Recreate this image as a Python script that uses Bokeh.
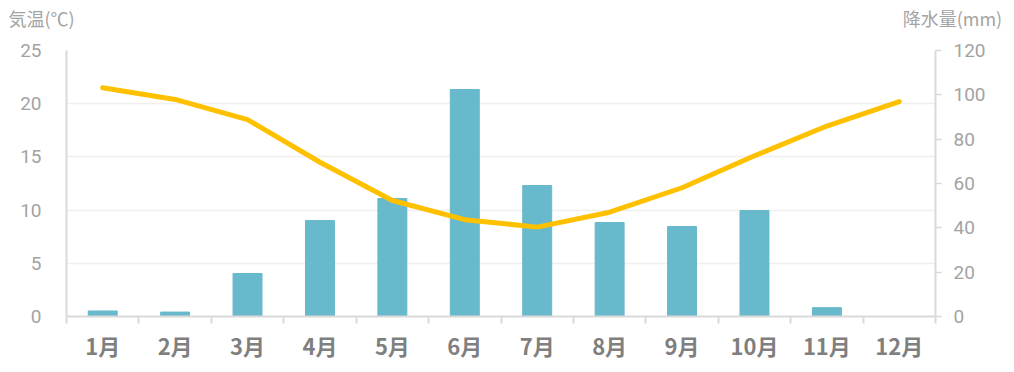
from bokeh.plotting import figure
from bokeh.models import Range1d, LinearAxis, FixedTicker, Title
from bokeh.embed import file_html
from bokeh.resources import INLINE

months = ["1月", "2月", "3月", "4月", "5月", "6月", "7月", "8月", "9月", "10月", "11月", "12月"]
temperature = [21.5, 20.4, 18.5, 14.5, 10.9, 9.1, 8.4, 9.8, 12.1, 15.1, 17.9, 20.2]
precipitation = [2.5, 2.0, 19.4, 43.3, 53.2, 102.4, 59.1, 42.4, 40.6, 47.8, 4.0, 0.0]
temp_ticks = [0, 5, 10, 15, 20, 25]
prec_ticks = [0, 20, 40, 60, 80, 100, 120]
temp_title = "気温(℃)"
prec_title = "降水量(mm)"

xs = list(range(1, len(months) + 1))

FL, FR, FT, FB = 66, 935, 50, 316  # frame edges in page pixels

p = figure(width=1014, height=372, output_backend="svg", toolbar_location=None,
           x_range=Range1d(0.5, 12.5), y_range=Range1d(0, 25),
           min_border_left=FL, min_border_right=1014 - FR, min_border_top=FT,
           min_border_bottom=372 - FB)
p.outline_line_color = None
p.extra_y_ranges = {"prec": Range1d(0, 120)}

# grid
p.xgrid.grid_line_color = None
p.ygrid.grid_line_color = "#EFEFEF"
p.ygrid.grid_line_width = 1.5
p.ygrid.ticker = FixedTicker(ticks=temp_ticks)

# bars
p.vbar(x=xs, top=precipitation, width=0.4, color="#67B9CB", y_range_name="prec")
# line
p.line(x=xs, y=temperature, line_color="#FFC000", line_width=5, line_join="round", line_cap="round")

# x axis
xa = p.xaxis[0]
xa.ticker = FixedTicker(ticks=xs, minor_ticks=[i + 0.5 for i in range(0, 13)])
xa.major_label_overrides = {i: m for i, m in zip(xs, months)}
xa.major_tick_line_color = None
xa.minor_tick_line_color = "#D9D9D9"
xa.minor_tick_line_width = 2
xa.minor_tick_out = 7
xa.minor_tick_in = 0
xa.axis_line_color = "#D9D9D9"
xa.axis_line_width = 2
xa.major_label_text_font = "Noto Sans CJK JP"
xa.major_label_text_font_style = "bold"
xa.major_label_text_font_size = "22px"
xa.major_label_text_color = "#7F7F7F"
xa.major_label_standoff = 5

# left axis
ya = p.yaxis[0]
ya.ticker = FixedTicker(ticks=temp_ticks)
ya.major_tick_line_color = None
ya.minor_tick_line_color = None
ya.axis_line_color = "#D9D9D9"
ya.axis_line_width = 2
ya.major_label_text_font = "Roboto"
ya.major_label_text_font_size = "19px"
ya.major_label_text_color = "#A3A3A3"
ya.major_label_standoff = 19

# right axis
ra = LinearAxis(y_range_name="prec", ticker=FixedTicker(ticks=prec_ticks))
ra.major_tick_line_color = "#D9D9D9"
ra.major_tick_line_width = 1.5
ra.major_tick_out = 6
ra.major_tick_in = 0
ra.minor_tick_line_color = None
ra.axis_line_color = "#D9D9D9"
ra.axis_line_width = 2
ra.major_label_text_font = "Roboto"
ra.major_label_text_font_size = "19px"
ra.major_label_text_color = "#A3A3A3"
ra.major_label_standoff = 12
p.add_layout(ra, "right")

# axis titles: one title line above the frame (left title, gap, right title)
spacer = Title(text="\u3000", text_font_size="2px", standoff=16, text_color="#FFFFFF")
p.add_layout(spacer, "above")
gap = "\u3000" * 46
titles = Title(text=temp_title + gap + prec_title, align="left", offset=-58, standoff=0,
               text_font="Noto Sans CJK JP", text_font_size="18px",
               text_font_style="normal", text_color="#A3A3A3")
p.add_layout(titles, "above")

open("out.html", "w").write(file_html(p, INLINE))
